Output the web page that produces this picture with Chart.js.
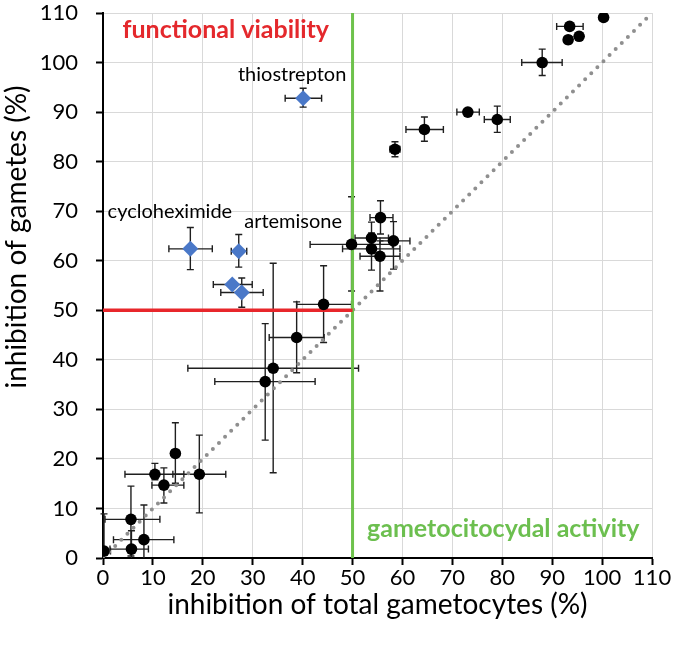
<!DOCTYPE html>
<html>
<head>
<meta charset="utf-8">
<script src="https://cdn.jsdelivr.net/npm/chart.js@4.4.1/dist/chart.umd.min.js"></script>
<style>
  html, body { margin: 0; padding: 0; background: #fff; }
  #wrap { width: 675px; height: 646px; position: relative; }
</style>
</head>
<body>
<div id="wrap"><canvas id="c" width="675" height="646"></canvas></div>
<script>
// ---- Data ----
// Black circles: compounds
const blackX   = [0.2, 5.7, 8.2, 5.6, 10.4, 12.2, 14.5, 19.3, 32.5, 34.1, 38.8, 44.2, 49.8, 53.8, 55.6, 58.2, 53.8, 55.5, 58.5, 64.4, 73.1, 79.0, 88.0, 93.2, 93.5, 95.4, 100.3];
const blackY   = [1.4, 1.8, 3.7, 7.8, 16.9, 14.7, 21.1, 16.9, 35.6, 38.3, 44.5, 51.2, 63.3, 64.6, 68.7, 64.0, 62.4, 60.9, 82.5, 86.5, 90.0, 88.5, 100.0, 104.6, 107.3, 105.3, 109.1];
const blackXLo = [0, 1.4, 2.1, 0.4, 4.4, 9.8, null, 14.0, 22.4, 17.0, 33.3, 38.8, 41.5, 50.5, 53.5, 55.5, 48.0, 51.5, 57.5, 60.7, 70.9, 76.4, 83.9, 92.4, 90.9, null, null];
const blackXHi = [1.5, 9.1, 14.2, 11.4, 16.2, 16.2, null, 24.6, 42.5, 51.2, 44.3, 49.8, 58.0, 57.2, 58.1, 61.5, 59.5, 59.5, 59.5, 68.2, 75.4, 81.6, 92.0, 94.0, 96.2, null, null];
const blackYLo = [0, 0, 0, 0.4, 15.8, 11.1, 15.1, 9.1, 23.8, 17.2, 37.4, 43.5, 53.9, 61.5, 65.4, 58.3, 58.1, 53.9, 81.0, 84.1, null, 85.9, 97.4, 103.8, null, null, null];
const blackYHi = [8.9, 5.5, 10.7, 14.5, 19.1, 18.2, 27.3, 24.8, 47.3, 59.5, 51.7, 59.0, 72.9, 67.8, 72.1, 67.9, 65.6, 64.0, 84.0, 89.0, null, 91.2, 102.7, 105.4, null, null, null];

// Blue diamonds: highlighted compounds
const blueX   = [17.5, 27.2, 25.9, 27.8, 40.1];
const blueY   = [62.4, 61.9, 55.2, 53.6, 92.8];
const blueXLo = [13.2, 25.7, 22.1, 23.6, 36.5];
const blueXHi = [21.9, 28.8, 29.9, 32.1, 43.8];
const blueYLo = [58.2, 58.7, null, 50.6, 91.0];
const blueYHi = [66.7, 65.3, null, 56.5, 94.8];

// Axis ticks
const tickValues = [0, 10, 20, 30, 40, 50, 60, 70, 80, 90, 100, 110];

// Threshold lines & identity line
const redLine   = [[0, 50], [50, 50]];
const greenLine = [[50, 0], [50, 110]];
const diagLine  = [[0, 0], [110, 110]];

// Text labels
const xTitle = 'inhibition of total gametocytes (%)';
const yTitle = 'inhibition of gametes (%)';
const annotations = [
  { text: 'functional viability', x: 24.6, y: 106.6, color: '#e4282c', bold: true, size: 25 },
  { text: 'gametocitocydal activity', x: 80.2, y: 5.85, color: '#6cbf4f', bold: true, size: 25 },
  { text: 'thiostrepton', x: 37.9, y: 97.5, color: '#000', bold: false, size: 20 },
  { text: 'cycloheximide', x: 13.4, y: 70.0, color: '#000', bold: false, size: 20 },
  { text: 'artemisone', x: 38.1, y: 68.0, color: '#000', bold: false, size: 20 }
];

// ---- Build datasets ----
function pts(xs, ys, xlo, xhi, ylo, yhi) {
  return xs.map((x, i) => ({ x: x, y: ys[i], xMin: xlo[i], xMax: xhi[i], yMin: ylo[i], yMax: yhi[i] }));
}
const toXY = arr => arr.map(p => ({ x: p[0], y: p[1] }));

const errorBars = {
  id: 'errorBars',
  beforeDatasetsDraw(chart) {
    const ctx = chart.ctx;
    const xs = chart.scales.x, ys = chart.scales.y;
    const cap = 3.5;
    ctx.save();
    ctx.strokeStyle = '#1f1f1f';
    ctx.lineWidth = 1.4;
    chart.data.datasets.forEach(ds => {
      if (!ds.errorBars) return;
      ds.data.forEach(d => {
        const px = xs.getPixelForValue(d.x), py = ys.getPixelForValue(d.y);
        ctx.beginPath();
        if (d.xMin != null) {
          const a = xs.getPixelForValue(d.xMin), b = xs.getPixelForValue(d.xMax);
          ctx.moveTo(a, py); ctx.lineTo(b, py);
          if (d.xMin > 0) { ctx.moveTo(a, py - cap); ctx.lineTo(a, py + cap); }
          ctx.moveTo(b, py - cap); ctx.lineTo(b, py + cap);
        }
        if (d.yMin != null) {
          const a = ys.getPixelForValue(d.yMin), b = ys.getPixelForValue(d.yMax);
          ctx.moveTo(px, a); ctx.lineTo(px, b);
          if (d.yMin > 0) { ctx.moveTo(px - cap, a); ctx.lineTo(px + cap, a); }
          ctx.moveTo(px - cap, b); ctx.lineTo(px + cap, b);
        }
        ctx.stroke();
      });
    });
    ctx.restore();
  }
};

const textLabels = {
  id: 'textLabels',
  afterDatasetsDraw(chart) {
    const ctx = chart.ctx;
    const xs = chart.scales.x, ys = chart.scales.y;
    ctx.save();
    ctx.textAlign = 'center';
    ctx.textBaseline = 'middle';
    annotations.forEach(a => {
      ctx.font = (a.bold ? 'bold ' : '') + a.size + 'px Lato';
      ctx.fillStyle = a.color;
      ctx.fillText(a.text, xs.getPixelForValue(a.x), ys.getPixelForValue(a.y));
    });
    // axis titles
    ctx.fillStyle = '#000';
    ctx.font = '28px Lato';
    const ca = chart.chartArea;
    ctx.fillText(xTitle, (ca.left + ca.right) / 2, 605);
    ctx.translate(17, 237);
    ctx.rotate(-Math.PI / 2);
    ctx.fillText(yTitle, 0, 0);
    ctx.restore();
  }
};

Chart.defaults.font.family = 'Lato';
Chart.defaults.color = '#000';

new Chart(document.getElementById('c'), {
  type: 'scatter',
  data: {
    datasets: [
      {
        label: 'compounds', data: pts(blackX, blackY, blackXLo, blackXHi, blackYLo, blackYHi),
        errorBars: true, pointStyle: 'circle', pointRadius: 5.8, pointHoverRadius: 5.8,
        backgroundColor: '#000', borderColor: '#000', borderWidth: 0, order: 0
      },
      {
        label: 'highlighted', data: pts(blueX, blueY, blueXLo, blueXHi, blueYLo, blueYHi),
        errorBars: true, pointStyle: 'rectRot', pointRadius: 8, pointHoverRadius: 8,
        backgroundColor: '#4a78c8', borderColor: '#4a78c8', borderWidth: 0, order: 0
      },
      {
        label: 'red', data: toXY(redLine), showLine: true, borderColor: '#e8262b',
        borderWidth: 3.5, pointRadius: 0, order: 1
      },
      {
        label: 'green', data: toXY(greenLine), showLine: true, borderColor: '#6ec24c',
        borderWidth: 3, pointRadius: 0, order: 1
      },
      {
        label: 'identity', data: toXY(diagLine), showLine: true, borderColor: '#8f8f8f',
        borderWidth: 4, borderDash: [0, 8.6], borderCapStyle: 'round', pointRadius: 0, order: 2
      }
    ]
  },
  options: {
    responsive: false,
    animation: false,
    events: [],
    layout: { padding: { left: 0, right: 23, top: 13, bottom: 0 } },
    plugins: { legend: { display: false }, tooltip: { enabled: false } },
    scales: {
      x: {
        type: 'linear', min: 0, max: 110,
        afterBuildTicks(s) { s.ticks = tickValues.map(v => ({ value: v })); },
        afterFit(s) { s.height = 88; s.paddingLeft = 0; s.paddingRight = 0; },
        grid: { color: '#d9d9d9', lineWidth: 1, tickColor: '#000', tickLength: 7, tickWidth: 2 },
        border: { color: '#000', width: 2 },
        ticks: { font: { size: 22 }, padding: 0, maxRotation: 0, autoSkip: false },
        title: { display: false }
      },
      y: {
        type: 'linear', min: 0, max: 110,
        afterBuildTicks(s) { s.ticks = tickValues.map(v => ({ value: v })); },
        afterFit(s) { s.width = 103; s.paddingTop = 0; s.paddingBottom = 0; },
        grid: { color: '#d9d9d9', lineWidth: 1, tickColor: '#000', tickLength: 7, tickWidth: 2 },
        border: { color: '#000', width: 2 },
        ticks: { font: { size: 22 }, padding: 18, autoSkip: false },
        title: { display: false }
      }
    }
  },
  plugins: [errorBars, textLabels]
});
</script>
</body>
</html>
